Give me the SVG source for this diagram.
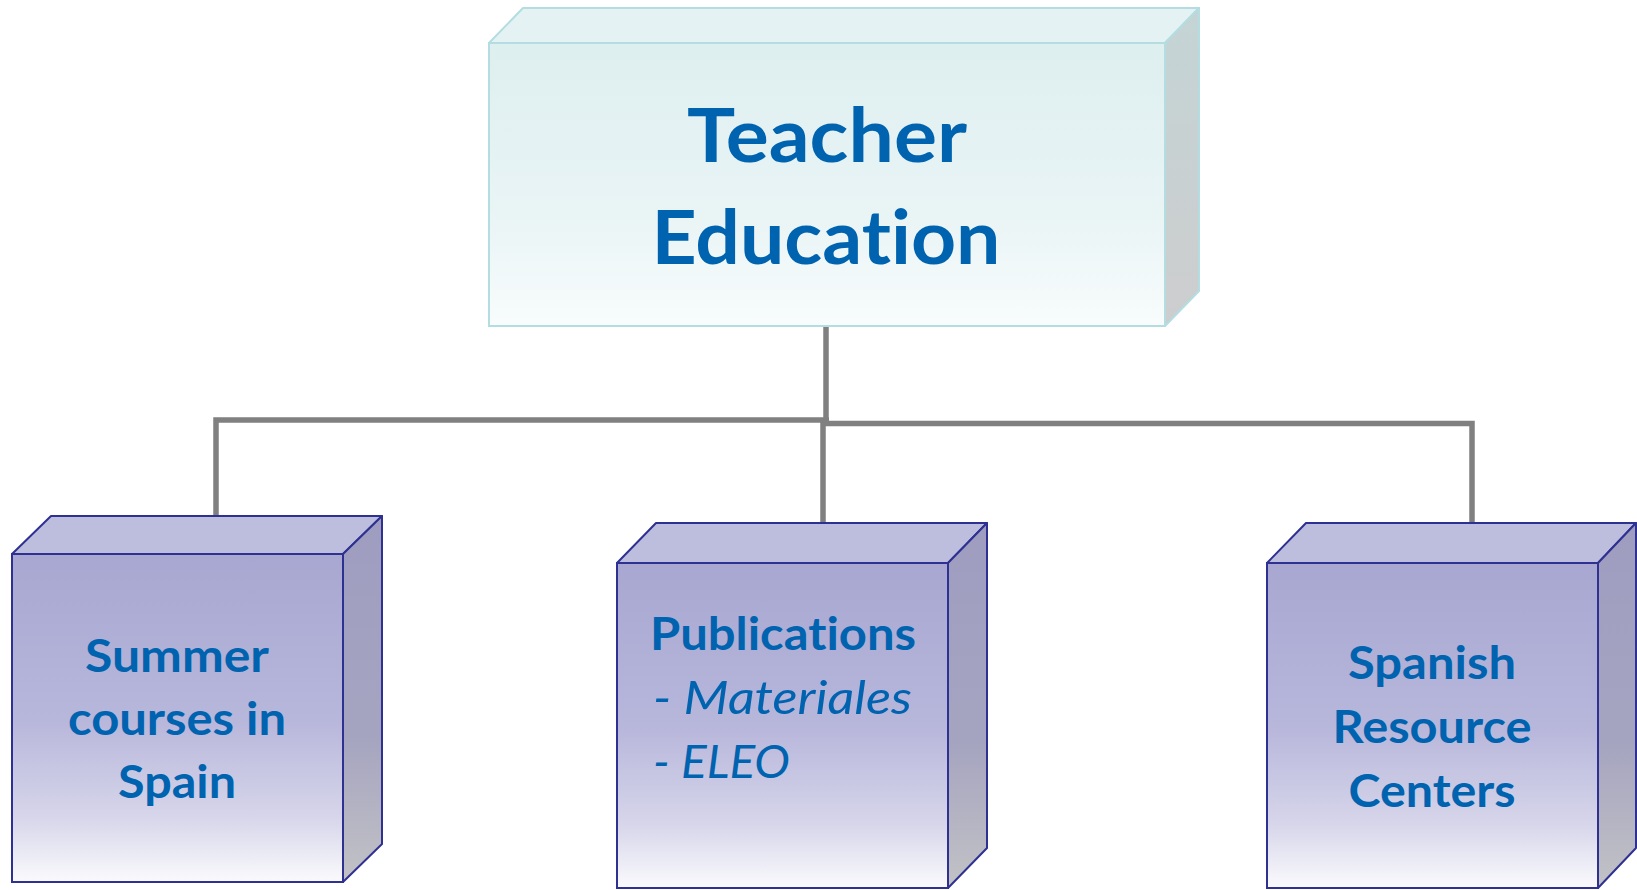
<svg xmlns="http://www.w3.org/2000/svg" width="1637" height="890" viewBox="0 0 1637 890">
<defs>
<linearGradient id="gTopFront" x1="0" y1="0" x2="0" y2="1"><stop offset="0" stop-color="#DEEFF0"/><stop offset="0.6" stop-color="#E9F4F5"/><stop offset="1" stop-color="#F8FCFC"/></linearGradient>
<linearGradient id="gTopSide" x1="0" y1="0" x2="0" y2="1"><stop offset="0" stop-color="#C4D4D5"/><stop offset="1" stop-color="#CDCDCE"/></linearGradient>
<linearGradient id="gFront" x1="0" y1="0" x2="0" y2="1"><stop offset="0" stop-color="#A8A7D1"/><stop offset="0.5" stop-color="#B7B6DB"/><stop offset="0.8" stop-color="#D6D5EA"/><stop offset="1" stop-color="#FAFAFD"/></linearGradient>
<linearGradient id="gSide" x1="0" y1="0" x2="0" y2="1"><stop offset="0" stop-color="#9E9DC1"/><stop offset="0.6" stop-color="#A5A4C0"/><stop offset="1" stop-color="#C2C2C6"/></linearGradient>
<style>
.conn{fill:none;stroke:#808080;stroke-width:5.5;stroke-linecap:butt}
.tf{fill:url(#gTopFront);stroke:#B3DDE1;stroke-width:2}
.tt{fill:#E4F2F3;stroke:#B3DDE1;stroke-width:2;stroke-linejoin:round}
.ts{fill:url(#gTopSide);stroke:#B3DDE1;stroke-width:2;stroke-linejoin:round}
.bf{fill:url(#gFront);stroke:#2E3192;stroke-width:2}
.bt{fill:#BDBDDE;stroke:#2E3192;stroke-width:2;stroke-linejoin:round}
.bs{fill:url(#gSide);stroke:#2E3192;stroke-width:2;stroke-linejoin:round}
text{font-variant-ligatures:none;font-feature-settings:"liga" 0,"clig" 0}
.lbl{font-family:Lato,"Open Sans",sans-serif;font-weight:bold;fill:#0063AF;text-anchor:middle}
.big{font-size:75px}
.med{font-size:46px}
.it{font-family:Lato,"Open Sans",sans-serif;font-style:italic;font-weight:normal;fill:#0063AF;font-size:46px}
</style>
</defs>
<rect width="1637" height="890" fill="#FFFFFF"/>
<g id="connectors">
<path class="conn" d="M826 326 V423"/>
<path class="conn" d="M216 516 V420 H829"/>
<path class="conn" d="M823 523 V423.5 H1472 V523"/>
</g>
<g id="teacher-education">
<polygon class="tt" points="489,43 523,8 1199,8 1165,43"/>
<polygon class="ts" points="1165,43 1199,8 1199,291 1165,326"/>
<rect class="tf" x="489" y="43" width="676" height="283"/>
<text class="lbl big" x="827" y="162" textLength="280" lengthAdjust="spacingAndGlyphs">Teacher</text>
<text class="lbl big" x="826" y="264" textLength="349" lengthAdjust="spacingAndGlyphs">Education</text>
</g>
<g id="summer-courses">
<polygon class="bt" points="12,554 51,516 382,516 343,554"/>
<polygon class="bs" points="343,554 382,516 382,844 343,882"/>
<rect class="bf" x="12" y="554" width="331" height="328"/>
<text class="lbl med" x="177" y="672" textLength="184" lengthAdjust="spacingAndGlyphs">Summer</text>
<text class="lbl med" x="177" y="735" textLength="218" lengthAdjust="spacingAndGlyphs">courses in</text>
<text class="lbl med" x="177" y="798" textLength="118" lengthAdjust="spacingAndGlyphs">Spain</text>
</g>
<g id="publications">
<polygon class="bt" points="617,563 656,523 987,523 948,563"/>
<polygon class="bs" points="948,563 987,523 987,848 948,888"/>
<rect class="bf" x="617" y="563" width="331" height="325"/>
<text class="lbl med" x="783" y="650" textLength="266" lengthAdjust="spacingAndGlyphs">Publications</text>
<text class="it" x="653" y="714" textLength="259" lengthAdjust="spacingAndGlyphs">- Materiales</text>
<text class="it" x="653" y="778" textLength="137" lengthAdjust="spacingAndGlyphs">- ELEO</text>
</g>
<g id="spanish-resource-centers">
<polygon class="bt" points="1267,563 1306,523 1636,523 1598,563"/>
<polygon class="bs" points="1598,563 1636,523 1636,848 1598,888"/>
<rect class="bf" x="1267" y="563" width="331" height="325"/>
<text class="lbl med" x="1432" y="679" textLength="168" lengthAdjust="spacingAndGlyphs">Spanish</text>
<text class="lbl med" x="1432" y="743" textLength="199" lengthAdjust="spacingAndGlyphs">Resource</text>
<text class="lbl med" x="1432" y="807" textLength="167" lengthAdjust="spacingAndGlyphs">Centers</text>
</g>
</svg>
